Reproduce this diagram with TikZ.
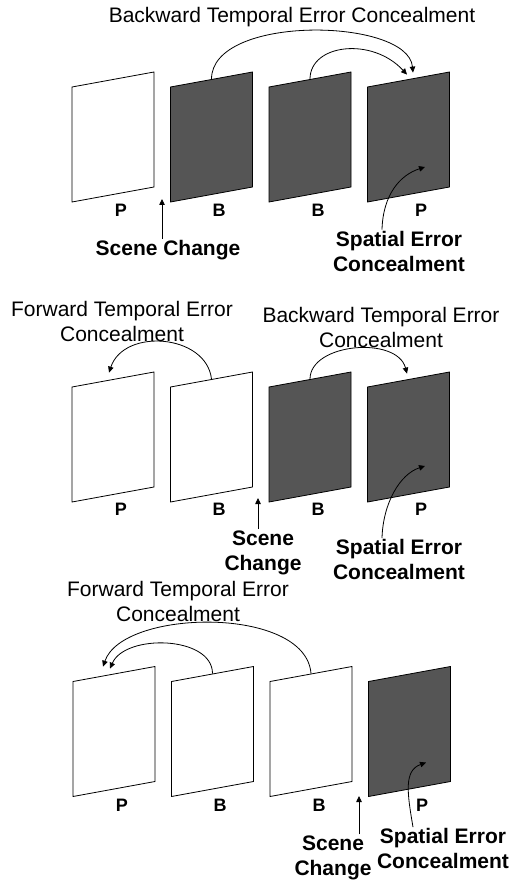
\documentclass[tikz,border=0pt]{standalone}
\usepackage{fontspec}
\setmainfont{Liberation Sans}
\usetikzlibrary{positioning}
\usetikzlibrary{calc}
\usetikzlibrary{arrows.meta}
\definecolor{dark}{RGB}{85,85,85}

\begin{document}
\begin{tikzpicture}[x=1pt, y=-1pt,
    frm/.style={draw, line width=0.8pt, minimum width=82pt, minimum height=115pt, inner sep=0pt, yslant=0.183},
    lbl/.style={font=\fontsize{18}{20}\selectfont\bfseries, inner sep=1pt},
    capt/.style={font=\fontsize{21}{25}\selectfont, align=center, inner sep=1pt},
    bcapt/.style={font=\fontsize{21}{25}\selectfont\bfseries, align=center, inner sep=1pt},
    conn/.style={line width=0.8pt, -{Triangle[length=6pt, width=5.5pt]}}]
    \useasboundingbox (0,0) rectangle (511,882);

    % top row: scene change after the first P
    \node (f11) [frm, fill=white] at (113,137) {};
    \node (f12) [frm, fill=dark] at (211.5,137) {};
    \node (f13) [frm, fill=dark] at (310,137) {};
    \node (f14) [frm, fill=dark] at (408.5,137) {};
    \node (l11) [lbl] at (121,210) {P};
    \node (l12) [lbl] at (219,210) {B};
    \node (l13) [lbl] at (318,210) {B};
    \node (l14) [lbl] at (421,210) {P};
    \node (t1) [capt] at (292,17) {Backward Temporal Error Concealment};
    \node (sc1) [bcapt] at (168,250) {Scene Change};
    \coordinate (sc1tip) at (162,199);
    \node (sp1) [bcapt] at (399,251) {Spatial Error\\Concealment};
    \coordinate (sp1tip) at ($(f14.center)+(16.5,30)$);

    \draw[conn] (f12.north) .. controls +(0,-65) and +(-5,-55) .. ($(f14.north)+(4.5,-6.5)$);
    \draw[conn] (f13.north) .. controls +(0,-35) and +(-35,-38) .. ($(f14.north)+(-1.5,-4.5)$);
    \draw[conn] (sc1.north -| sc1tip) -- (sc1tip);
    \draw[conn] ($(sp1.north)+(-17,0)$) .. controls +(1,-35) and +(-25,8) .. (sp1tip);

    % middle row: scene change after the first B
    \node (f21) [frm, fill=white] at (113,437) {};
    \node (f22) [frm, fill=white] at (211.5,437) {};
    \node (f23) [frm, fill=dark] at (310,437) {};
    \node (f24) [frm, fill=dark] at (408.5,437) {};
    \node (l21) [lbl] at (121,509) {P};
    \node (l22) [lbl] at (219,509) {B};
    \node (l23) [lbl] at (318,509) {B};
    \node (l24) [lbl] at (421,509) {P};
    \node (t2a) [capt] at (122,321.5) {Forward Temporal Error\\Concealment};
    \node (t2b) [capt] at (381,327.5) {Backward Temporal Error\\Concealment};
    \node (sc2) [bcapt] at (263,552.5) {Scene\\Change};
    \coordinate (sc2tip) at (258,498);
    \node (sp2) [bcapt] at (399,559.5) {Spatial Error\\Concealment};
    \coordinate (sp2tip) at ($(f24.center)+(16.5,29)$);

    \draw[conn] (f22.north) .. controls +(-5,-45) and +(15,-45) .. ($(f21.north)+(-4,-6.5)$);
    \draw[conn] (f23.north) .. controls +(0,-36) and +(-10,-38) .. ($(f24.north)+(-1.5,-5.5)$);
    \draw[conn] (sc2.north -| sc2tip) -- (sc2tip);
    \draw[conn] ($(sp2.north)+(-17,0)$) .. controls +(1,-35) and +(-25,8) .. (sp2tip);

    % bottom row: scene change before the last P
    \node (f31) [frm, fill=white] at (114,731.5) {};
    \node (f32) [frm, fill=white] at (212.5,731.5) {};
    \node (f33) [frm, fill=white] at (311,731.5) {};
    \node (f34) [frm, fill=dark] at (409.5,731.5) {};
    \node (l31) [lbl] at (122,805) {P};
    \node (l32) [lbl] at (220,805) {B};
    \node (l33) [lbl] at (319,805) {B};
    \node (l34) [lbl] at (422,805) {P};
    \node (t3) [capt] at (178,601.5) {Forward Temporal Error\\Concealment};
    \node (sc3) [bcapt] at (333,857.5) {Scene\\Change};
    \coordinate (sc3tip) at (359,796);
    \node (sp3) [bcapt] at (443,848.5) {Spatial Error\\Concealment};
    \coordinate (sp3tip) at ($(f34.center)+(16.5,31)$);

    \draw[conn] (f33.north) .. controls +(-5,-68) and +(20,-58) .. ($(f31.north)+(-11,-7)$);
    \draw[conn] (f32.north) .. controls +(0,-38) and +(15,-35) .. ($(f31.north)+(-4,-5)$);
    \draw[conn] (sc3.north -| sc3tip) -- (sc3tip);
    \draw[conn] ($(sp3.north)+(-30,0)$) .. controls +(-6,-35) and +(-22,8) .. (sp3tip);
\end{tikzpicture}
\end{document}
